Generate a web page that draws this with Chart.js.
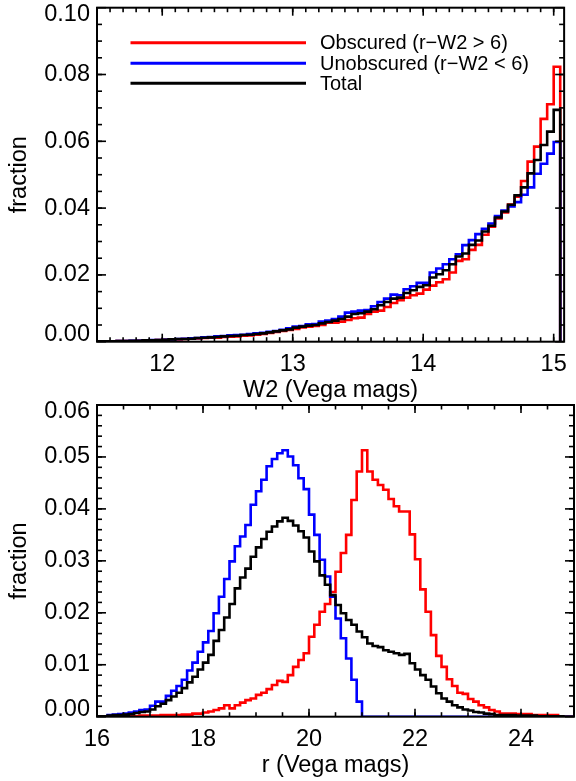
<!DOCTYPE html>
<html><head><meta charset="utf-8">
<script src="https://cdn.jsdelivr.net/npm/chart.js@4.4.1/dist/chart.umd.min.js"></script>
<style>
html,body{margin:0;padding:0;background:#fff;}
#wrap{position:relative;width:576px;height:781px;background:#fff;}
#box1{position:absolute;left:0;top:0;width:576px;height:404px;}
#box2{position:absolute;left:0;top:390px;width:576px;height:391px;}
</style></head><body>
<div id="wrap"><div id="box1"><canvas id="c1"></canvas></div><div id="box2"><canvas id="c2"></canvas></div></div>
<script>
// ---------------- data ----------------
const seriesNames = ['Obscured (r\u2212W2 > 6)', 'Unobscured (r\u2212W2 < 6)', 'Total'];
const seriesColors = ['#ff0000', '#0000ff', '#000000'];

// W2 histogram: bins of 0.05 mag starting at 11.5
const w2Start = 11.5;
const w2BinWidth = 0.05;
const w2Obscured = [
  0.0001,0.0001,0.0001,0.0002,0.0002,0.0002,0.0003,0.0003,0.0004,0.0005,
  0.0006,0.0007,0.0007,0.0008,0.0009,0.0010,0.0011,0.0012,0.0012,0.0014,
  0.0015,0.0016,0.0018,0.0019,0.0021,0.0023,0.0026,0.0029,0.0032,
  0.0035,0.0038,0.0043,0.0045,0.0047,0.0050,0.0057,0.0057,0.0060,0.0065,0.0070,0.0072,
  0.0083,0.0090,0.0093,0.0104,0.0116,0.0124,0.0132,0.0139,0.0144,0.0156,0.0168,0.0178,
  0.0187,0.0207,0.0242,0.0247,0.0275,0.0290,0.0320,0.0344,0.0369,0.0387,0.0411,0.0434,
  0.0481,0.0539,0.0584,0.0667,0.0711,0.0823
];
const w2Unobscured = [
  0.0001,0.0001,0.0001,0.0002,0.0002,0.0003,0.0003,0.0004,0.0005,0.0005,
  0.0006,0.0007,0.0008,0.0009,0.0010,0.0011,0.0013,0.0014,0.0016,0.0017,
  0.0019,0.0020,0.0021,0.0023,0.0025,0.0027,0.0030,0.0032,0.0036,
  0.0040,0.0045,0.0047,0.0052,0.0053,0.0060,0.0063,0.0068,0.0075,0.0087,0.0090,0.0093,
  0.0095,0.0106,0.0119,0.0129,0.0141,0.0139,0.0157,0.0166,0.0176,0.0176,0.0207,0.0219,
  0.0232,0.0247,0.0262,0.0289,0.0304,0.0322,0.0338,0.0354,0.0376,0.0393,0.0405,0.0418,
  0.0440,0.0462,0.0503,0.0533,0.0563,0.0598
];
const w2Total = [
  0.0001,0.0001,0.0001,0.0002,0.0002,0.0003,0.0003,0.0004,0.0004,0.0005,
  0.0006,0.0007,0.0008,0.0008,0.0009,0.0011,0.0012,0.0013,0.0014,0.0016,
  0.0017,0.0018,0.0020,0.0021,0.0023,0.0025,0.0028,0.0031,0.0034,
  0.0037,0.0042,0.0045,0.0048,0.0050,0.0055,0.0059,0.0063,0.0068,0.0075,0.0083,0.0085,
  0.0090,0.0097,0.0109,0.0119,0.0129,0.0132,0.0146,0.0154,0.0164,0.0169,0.0192,0.0202,
  0.0214,0.0232,0.0255,0.0264,0.0290,0.0303,0.0330,0.0347,0.0372,0.0390,0.0410,0.0438,
  0.0462,0.0504,0.0544,0.0589,0.0629,0.0694
];

// r histogram: bins of 0.1 mag starting at 16.0
const rStart = 16.0;
const rBinWidth = 0.1;
const rObscured = [
  0,0,0,0.0001,0.0001,0.0001,0.0001,0.0001,0.0002,0.0002,
  0.0002,0.0002,0.0003,0.0003,0.0003,0.0003,0.0004,0.0004,0.0006,0.0006,
  0.0008,0.0010,0.0013,0.0016,0.0022,0.0016,0.0022,0.0027,0.0032,0.0035,
  0.0042,0.0046,0.0053,0.0061,0.0069,0.0067,0.0080,0.0096,0.0109,0.0122,
  0.0154,0.0177,0.0202,0.0217,0.0240,0.0279,0.0315,0.0350,0.0417,0.0472,
  0.0513,0.0472,0.0456,0.0446,0.0437,0.0419,0.0405,0.0395,0.0395,0.0351,
  0.0303,0.0245,0.0202,0.0157,0.0117,0.0096,0.0072,0.0059,0.0046,0.0044,
  0.0034,0.0029,0.0022,0.0018,0.0013,0.0010,0.0006,0.0006,0.0006,0.0005,
  0.0005,0.0005,0.0003,0.0003,0.0003,0.0003,0.0003,0,0,0
];
const rUnobscured = [
  0.0001,0.0001,0.0003,0.0004,0.0005,0.0006,0.0008,0.0010,0.0013,0.0014,
  0.0021,0.0029,0.0029,0.0040,0.0050,0.0059,0.0071,0.0089,0.0104,0.0125,
  0.0143,0.0165,0.0199,0.0231,0.0265,0.0299,0.0328,0.0347,0.0369,0.0408,
  0.0434,0.0456,0.0482,0.0496,0.0507,0.0513,0.0501,0.0484,0.0459,0.0438,
  0.0389,0.0350,0.0302,0.0270,0.0231,0.0189,0.0151,0.0112,0.0071,0.0029,
  0,0,0,0,0,0,0,0,0,0,
  0,0,0,0,0,0,0,0,0,0,
  0,0,0,0,0,0,0,0,0,0,
  0,0,0,0,0,0,0,0,0,0
];
const rTotal = [
  0.0001,0.0001,0.0002,0.0003,0.0003,0.0004,0.0005,0.0007,0.0009,0.0010,
  0.0014,0.0020,0.0025,0.0032,0.0039,0.0046,0.0055,0.0066,0.0077,0.0091,
  0.0104,0.0119,0.0146,0.0167,0.0191,0.0217,0.0247,0.0268,0.0285,0.0308,
  0.0326,0.0342,0.0356,0.0366,0.0376,0.0383,0.0377,0.0368,0.0357,0.0345,
  0.0318,0.0299,0.0272,0.0254,0.0234,0.0215,0.0199,0.0186,0.0177,0.0164,
  0.0153,0.0141,0.0136,0.0134,0.0128,0.0125,0.0122,0.0119,0.0121,0.0103,
  0.0091,0.0080,0.0071,0.0058,0.0045,0.0035,0.0029,0.0022,0.0018,0.0014,
  0.0012,0.0009,0.0008,0.0006,0.0005,0.0003,0.0003,0.0003,0.0003,0.0002,
  0.0002,0.0002,0.0002,0.0001,0.0001,0.0001,0.0001,0.0001,0,0
];

// tick labels
const w2TickLabels = [12, 13, 14, 15];
const rTickLabels = [16, 18, 20, 22, 24];
const fracTicksTop = [0.00, 0.02, 0.04, 0.06, 0.08, 0.10];
const fracTicksBottom = [0.00, 0.01, 0.02, 0.03, 0.04, 0.05, 0.06];

// ---------------- drawing ----------------
const FONT = "'Liberation Sans', Arial, Helvetica, sans-serif";
const FS = 23.5;

function histPoints(start, width, vals) {
  const pts = vals.map((v, i) => ({x: start + i * width, y: v}));
  pts.push({x: start + vals.length * width, y: 0});
  return pts;
}

const idlFrame = {
  id: 'idlFrame',
  afterDatasetsDraw(chart, args, o) {
    const {ctx, chartArea: a, scales: {x, y}} = chart;
    ctx.save();
    ctx.strokeStyle = '#000';
    ctx.lineWidth = 1.6;
    const line = (x1, y1, x2, y2) => { ctx.beginPath(); ctx.moveTo(x1, y1); ctx.lineTo(x2, y2); ctx.stroke(); };
    const nx = Math.floor((x.max - x.min) / o.xMinor + 1e-6);
    const x0 = Math.ceil(x.min / o.xMinor - 1e-6) * o.xMinor;
    for (let i = 0; i <= nx + 1; i++) {
      const v = x0 + i * o.xMinor;
      if (v <= x.min + 1e-6 || v >= x.max - 1e-6) continue;
      const p = x.getPixelForValue(v);
      line(p, a.bottom, p, a.bottom - o.xMinLen);
      line(p, a.top, p, a.top + o.xMinLen);
    }
    for (const v of o.xMajors) {
      const p = x.getPixelForValue(v);
      line(p, a.bottom, p, a.bottom - o.xMajLen);
      line(p, a.top, p, a.top + o.xMajLen);
    }
    const ny = Math.round((y.max - y.min) / o.yMinor);
    for (let i = 1; i < ny; i++) {
      const p = y.getPixelForValue(y.min + i * o.yMinor);
      line(a.left, p, a.left + o.yMinLen, p);
      line(a.right, p, a.right - o.yMinLen, p);
    }
    for (const v of o.yMajors) {
      const p = y.getPixelForValue(v);
      line(a.left, p, a.left + o.yMajLen, p);
      line(a.right, p, a.right - o.yMajLen, p);
    }
    ctx.lineWidth = 2;
    ctx.strokeRect(a.left, a.top, a.right - a.left, a.bottom - a.top);
    ctx.fillStyle = '#000';
    ctx.font = FS + 'px ' + FONT;
    ctx.textAlign = 'right';
    ctx.textBaseline = 'middle';
    for (const v of o.yMajors) {
      let p = y.getPixelForValue(v);
      p = Math.min(Math.max(p, a.top + 7), a.bottom - 7);
      ctx.fillText(v.toFixed(2), a.left - 7, p);
    }
    if (o.legend) {
      const L = o.legend;
      ctx.font = L.size + 'px ' + FONT;
      ctx.textAlign = 'left';
      chart.data.datasets.forEach((ds, i) => {
        const yy = L.rows[i];
        ctx.strokeStyle = ds.borderColor;
        ctx.lineWidth = 3;
        line(L.x1, yy, L.x2, yy);
        ctx.fillStyle = '#000';
        ctx.fillText(ds.label, L.tx, yy + 1);
      });
    }
    ctx.restore();
  }
};

function makeChart(id, cfg) {
  const datasets = cfg.series.map((vals, i) => ({
    label: seriesNames[i],
    data: histPoints(cfg.start, cfg.width, vals),
    borderColor: seriesColors[i],
    backgroundColor: seriesColors[i],
    borderWidth: 2.6,
    stepped: 'before',
    fill: false,
    pointRadius: 0,
    order: 3 - i
  }));
  return new Chart(document.getElementById(id), {
    type: 'line',
    data: {datasets},
    plugins: [idlFrame],
    options: {
      responsive: true, maintainAspectRatio: false, animation: false, devicePixelRatio: 1,
      layout: {padding: {top: cfg.padTop, right: 2, left: 0, bottom: 0}},
      plugins: {
        legend: {display: false}, tooltip: {enabled: false},
        idlFrame: {
          xMinor: cfg.xMinor, xMajors: cfg.xTicks, xMinLen: 4.5, xMajLen: 8,
          yMinor: cfg.yMinor, yMajors: cfg.yTicks, yMinLen: 5, yMajLen: 9,
          legend: cfg.legend
        }
      },
      scales: {
        x: {
          type: 'linear', min: cfg.xMin, max: cfg.xMax,
          grid: {display: false, drawTicks: false}, border: {display: false},
          afterBuildTicks: s => { s.ticks = cfg.xTicks.map(v => ({value: v})); },
          afterFit: s => { s.height = cfg.xAxisH; },
          ticks: {color: '#000', font: {family: FONT, size: FS}, padding: 9.2, maxRotation: 0, autoSkip: false,
                  callback: v => String(v)},
          title: {display: true, text: cfg.xTitle, color: '#000',
                  font: {family: FONT, size: FS, lineHeight: 1}, padding: {top: 0, bottom: cfg.titlePadB}}
        },
        y: {
          type: 'linear', min: 0, max: cfg.yMax,
          grid: {display: false, drawTicks: false}, border: {display: false},
          ticks: {display: false},
          afterFit: s => { s.width = 97; },
          title: {display: true, text: 'fraction', color: '#000',
                  font: {family: FONT, size: FS, lineHeight: 1}, padding: {top: 7.75, bottom: 0}}
        }
      }
    }
  });
}

makeChart('c1', {
  series: [w2Obscured, w2Unobscured, w2Total], start: w2Start, width: w2BinWidth,
  xMin: 11.5, xMax: 15.08, xTicks: w2TickLabels, xMinor: 0.1,
  yMax: 0.10, yTicks: fracTicksTop, yMinor: 0.005,
  padTop: 7.7, xAxisH: 404 - 341.7, titlePadB: 1.25,
  xTitle: 'W2 (Vega mags)',
  legend: {x1: 130.5, x2: 306, tx: 320, size: 20, rows: [42.7, 63.3, 83.3]}
});

makeChart('c2', {
  series: [rObscured, rUnobscured, rTotal], start: rStart, width: rBinWidth,
  xMin: 16, xMax: 25, xTicks: rTickLabels, xMinor: 0.5,
  yMax: 0.06, yTicks: fracTicksBottom, yMinor: 0.002,
  padTop: 15, xAxisH: 391 - 326.7, titlePadB: 3.25,
  xTitle: 'r (Vega mags)',
  legend: null
});
</script>
</body></html>
